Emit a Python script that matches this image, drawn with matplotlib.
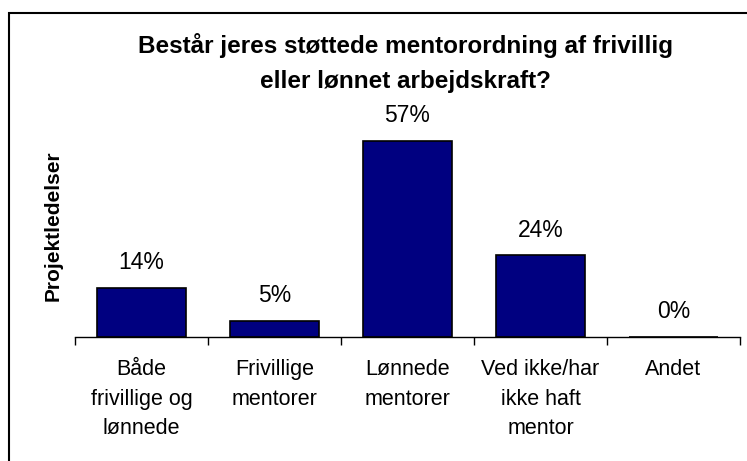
import matplotlib.pyplot as plt
from matplotlib.patches import Rectangle

plt.rcParams['font.family'] = ['Liberation Sans', 'DejaVu Sans']

categories = ["Både\nfrivillige og\nlønnede", "Frivillige\nmentorer", "Lønnede\nmentorer",
              "Ved ikke/har\nikke haft\nmentor", "Andet"]
values = [14.3, 4.8, 57.1, 23.8, 0.0]
title = "Består jeres støttede mentorordning af frivillig\neller lønnet arbejdskraft?"

fig = plt.figure(figsize=(7.47, 4.61), dpi=100)
W, H = 747, 461
ax = fig.add_axes([75 / W, 1 - 337 / H, (740 - 75) / W, (337 - 131) / H])

x = range(len(values))
ax.bar(x, values, width=0.67, color="#000080", edgecolor="black", linewidth=1.2)
for xi, v in zip(x, values):
    ax.text(xi, v + 7.3, f"{v:.0f}%", ha="center", va="center", fontsize=16.5)

ax.set_xlim(-0.5, len(values) - 0.5)
ax.set_ylim(0, 60)
ax.set_xticks(x)
ax.set_xticklabels(categories, fontsize=15.5, linespacing=1.53, va="top")
ax.tick_params(axis="x", length=0, pad=16)
ax.set_xticks([i - 0.5 for i in range(len(values) + 1)], minor=True)
ax.tick_params(axis="x", which="minor", length=6, width=1, direction="out")
ax.set_yticks([])
for s in ["top", "right", "left"]:
    ax.spines[s].set_visible(False)
ax.spines["bottom"].set_linewidth(1)

fig.text(53 / W, 1 - 226 / H, "Projektledelser", rotation=90, ha="center", va="center",
         fontsize=15, fontweight="bold")
fig.text(405 / W, 1 - 63 / H, title, ha="center", va="center", fontsize=17.5,
         fontweight="bold", linespacing=1.7)

fig.patches.append(Rectangle((9 / W, -0.1), 1.2, 1 - 13 / H + 0.1, transform=fig.transFigure,
                             fill=False, edgecolor="black", linewidth=1.5))

fig.savefig("out.png", dpi=100)
